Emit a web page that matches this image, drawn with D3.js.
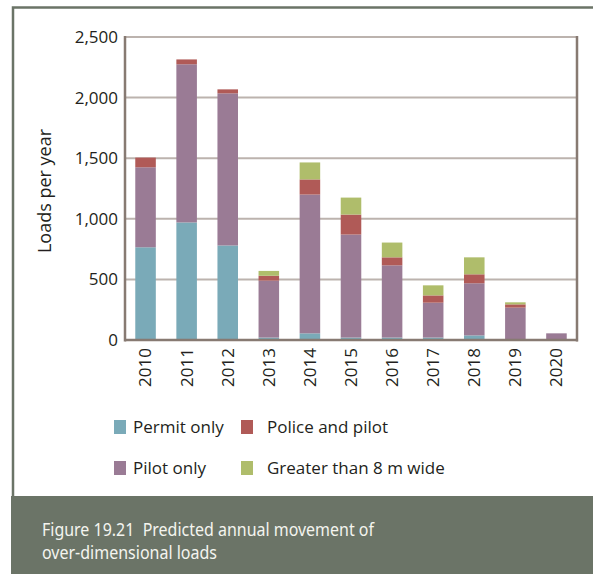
<!DOCTYPE html>
<html><head><meta charset="utf-8">
<script src="https://cdn.jsdelivr.net/npm/d3@7"></script>
<style>body{margin:0;background:#fff}svg{display:block}</style>
</head><body><svg id="c" width="593" height="574"></svg>
<script>
const years = ["2010","2011","2012","2013","2014","2015","2016","2017","2018","2019","2020"];
const permitOnly   = [765, 970, 780, 20, 55, 20, 20, 20, 38, 5, 0];
const pilotOnly    = [660, 1305, 1255, 470, 1145, 850, 596, 288, 430, 262, 55];
const policePilot  = [80, 40, 33, 40, 125, 165, 66, 60, 74, 27, 0];
const greater8m    = [0, 0, 0, 40, 140, 140, 122, 83, 140, 17, 0];
const seriesNames  = ["Permit only","Pilot only","Police and pilot","Greater than 8 m wide"];
const seriesColors = ["#7aaab8","#9a7b95","#b05a57","#afbd6b"];
const yTicks = [0, 500, 1000, 1500, 2000, 2500];

const svg = d3.select("#c");
const frameCol = "#6b7467";
// outer frame
svg.append("path").attr("d","M13,497 V7.5 H593").attr("fill","none").attr("stroke",frameCol).attr("stroke-width",2.5);
// caption box
svg.append("rect").attr("x",11).attr("y",496).attr("width",582).attr("height",78).attr("fill",frameCol);
const capFont = "'Noto Sans', 'Open Sans', sans-serif";
svg.append("text").attr("x",42).attr("y",536).attr("fill","#f4f4ef").attr("font-family",capFont).attr("font-size",17.5)
  .style("white-space","pre").attr("textLength",332).attr("lengthAdjust","spacingAndGlyphs")
  .text("Figure 19.21  Predicted annual movement of");
svg.append("text").attr("x",42).attr("y",559).attr("fill","#f4f4ef").attr("font-family",capFont).attr("font-size",17.5)
  .attr("textLength",175).attr("lengthAdjust","spacingAndGlyphs")
  .text("over-dimensional loads");

const m = {l:125, t:37, r:577, b:340};
const x = d3.scaleBand().domain(years).range([m.l, m.r]).paddingInner(0.5).paddingOuter(0.25);
const y = d3.scaleLinear().domain([0,2500]).range([m.b, m.t]);

const data = years.map((yr,i)=>({year:yr, s0:permitOnly[i], s1:pilotOnly[i], s2:policePilot[i], s3:greater8m[i]}));
const stack = d3.stack().keys(["s0","s1","s2","s3"])(data);

// gridlines
svg.append("g").selectAll("line").data(yTicks.slice(1)).join("line")
  .attr("x1",m.l).attr("x2",m.r).attr("y1",d=>y(d)).attr("y2",d=>y(d))
  .attr("stroke","#bcb3ae").attr("stroke-width",2);

// bars
svg.append("g").selectAll("g").data(stack).join("g").attr("fill",(d,i)=>seriesColors[i])
  .selectAll("rect").data(d=>d).join("rect")
  .attr("x",d=>x(d.data.year)).attr("width",x.bandwidth())
  .attr("y",d=>y(d[1])).attr("height",d=>Math.max(0,y(d[0])-y(d[1])));

// axes lines
const axCol = "#877a72";
svg.append("line").attr("x1",m.l).attr("x2",m.l).attr("y1",m.t-1).attr("y2",m.b+1.5).attr("stroke",axCol).attr("stroke-width",2.5);
svg.append("line").attr("x1",m.r).attr("x2",m.r).attr("y1",m.t-1).attr("y2",m.b+1.5).attr("stroke",axCol).attr("stroke-width",2.5);
svg.append("line").attr("x1",m.l).attr("x2",m.r+1).attr("y1",m.b).attr("y2",m.b).attr("stroke",axCol).attr("stroke-width",2.5);

const font = "'Open Sans', sans-serif";
// y axis
const yAxis = d3.axisLeft(y).tickValues(yTicks).tickFormat(d3.format(",")).tickSize(0).tickPadding(7);
const gy = svg.append("g").attr("transform",`translate(${m.l},0)`).call(yAxis);
gy.select(".domain").remove();
gy.selectAll("text").attr("font-family",font).attr("font-size",17).attr("fill","#231f20");

// x axis
const xAxis = d3.axisBottom(x).tickSize(0).tickPadding(0);
const gx = svg.append("g").attr("transform",`translate(0,${m.b})`).call(xAxis);
gx.select(".domain").remove();
gx.selectAll("text").attr("font-family",font).attr("font-size",17).attr("fill","#231f20")
  .attr("transform","rotate(-90)").attr("text-anchor","end").attr("x",-8).attr("y",0).attr("dy","0.35em");

// y title
svg.append("text").attr("transform","translate(45,191) rotate(-90)").attr("text-anchor","middle")
  .attr("dy","0.35em").attr("font-family",font).attr("font-size",18).attr("fill","#231f20").text("Loads per year");

// legend
const legendOrder = [0,2,1,3];
const legPos = [[114,427],[241,427],[114,468],[241,468]];
legendOrder.forEach((si,k)=>{
  const [lx,ly] = legPos[k];
  svg.append("rect").attr("x",lx).attr("y",ly-7).attr("width",12).attr("height",14).attr("fill",seriesColors[si]);
  svg.append("text").attr("x", k%2===0 ? 133 : 267).attr("y",ly).attr("dy","0.35em")
    .attr("font-family",font).attr("font-size",17).attr("fill","#231f20").text(seriesNames[si]);
});
</script></body></html>
